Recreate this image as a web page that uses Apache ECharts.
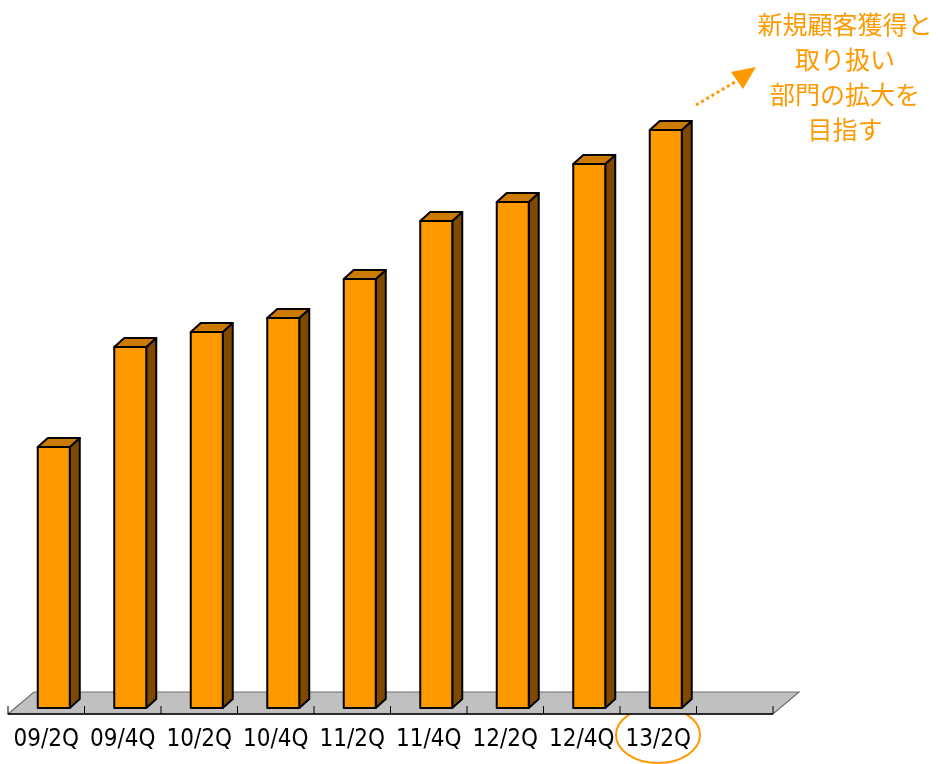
<!DOCTYPE html>
<html>
<head>
<meta charset="utf-8">
<script src="https://cdn.jsdelivr.net/npm/echarts@6/dist/echarts.min.js"></script>
<style>
  html, body { margin: 0; padding: 0; background: #fff; }
  #chart { width: 938px; height: 764px; }
</style>
</head>
<body>
<div id="chart"></div>
<script>
// Quarter labels (the trailing empty slot leaves room on the floor)
const categories = ['09/2Q', '09/4Q', '10/2Q', '10/4Q', '11/2Q', '11/4Q', '12/2Q', '12/4Q', '13/2Q', ''];
// Bar heights per quarter (relative units)
const values = [26.1, 36.1, 37.6, 39.0, 42.9, 48.7, 50.6, 54.4, 57.8];
// Callout text lines
const noteLines = ['新規顧客獲得と', '取り扱い', '部門の拡大を', '目指す'];

const ORANGE = '#FF9900';
const TOP = '#CC7A00';
const SIDE = '#7F4A00';

const chart = echarts.init(document.getElementById('chart'));

// depth of the floor and of each bar, in pixels
const FLOOR_DX = 26, FLOOR_DY = 22;
const BAR_DX = 10, BAR_DY = 9;
const BAR_W = 32;
const SHIFT_X = 7.5, SHIFT_Y = 6;
const TICK_LEN = 8;

// grey floor slab plus the category boundary ticks standing on its front edge
function renderFloor(params, api) {
  const cs = params.coordSys;
  const x0 = cs.x, x1 = cs.x + cs.width, y = cs.y + cs.height;
  const band = api.size([1, 0])[0];
  const children = [{
    type: 'polygon',
    shape: { points: [[x0, y], [x1, y], [x1 + FLOOR_DX, y - FLOOR_DY], [x0 + FLOOR_DX, y - FLOOR_DY]] },
    style: { fill: '#C0C0C0', stroke: '#6e6e6e', lineWidth: 1.2 }
  }];
  for (let i = 0; i < categories.length; i++) {
    const c = api.coord([i, 0])[0];
    children.push({
      type: 'line',
      shape: { x1: c - band / 2, y1: y, x2: c - band / 2, y2: y - TICK_LEN },
      style: { stroke: '#000', lineWidth: 1 }
    });
  }
  children.push({
    type: 'line',
    shape: { x1: x1, y1: y, x2: x1, y2: y - TICK_LEN },
    style: { stroke: '#000', lineWidth: 1 }
  });
  children.push({
    type: 'line',
    shape: { x1: x0, y1: y, x2: x1, y2: y },
    style: { stroke: '#000', lineWidth: 1.4 }
  });
  return { type: 'group', children: children };
}

function renderBar(params, api) {
  const idx = api.value(0);
  const v = api.value(1);
  const base = api.coord([idx, 0]);
  const top = api.coord([idx, v]);
  const x0 = base[0] + SHIFT_X - BAR_W / 2;
  const x1 = x0 + BAR_W;
  const yb = base[1] - SHIFT_Y;
  const yt = top[1] - SHIFT_Y;
  const line = { stroke: '#000', lineWidth: 2, lineJoin: 'round' };
  return {
    type: 'group',
    children: [
      { type: 'polygon', shape: { points: [[x1, yt], [x1 + BAR_DX, yt - BAR_DY], [x1 + BAR_DX, yb - BAR_DY], [x1, yb]] },
        style: Object.assign({ fill: SIDE }, line) },
      { type: 'polygon', shape: { points: [[x0, yt], [x1, yt], [x1 + BAR_DX, yt - BAR_DY], [x0 + BAR_DX, yt - BAR_DY]] },
        style: Object.assign({ fill: TOP }, line) },
      { type: 'rect', shape: { x: x0, y: yt, width: BAR_W, height: yb - yt },
        style: Object.assign({ fill: ORANGE }, line) }
    ]
  };
}

const noteGraphics = noteLines.map((t, i) => ({
  type: 'text',
  z: 10,
  style: {
    x: 845, y: 24 + i * 35,
    text: t,
    align: 'center',
    verticalAlign: 'middle',
    fill: ORANGE,
    font: '25px "Noto Sans CJK JP", sans-serif'
  }
}));

const option = {
  animation: false,
  grid: { left: 8, right: 165, top: 114, bottom: 50 },
  xAxis: {
    type: 'category',
    data: categories,
    boundaryGap: true,
    axisLine: { show: false },
    axisTick: { show: false },
    axisLabel: {
      interval: 0,
      color: '#000',
      fontSize: 24,
      fontFamily: '"DejaVu Sans Condensed", "Liberation Sans Narrow", "DejaVu Sans", sans-serif',
      margin: 14
    }
  },
  yAxis: { type: 'value', min: 0, max: 60, show: false },
  series: [
    {
      type: 'custom',
      renderItem: renderFloor,
      data: [[0, 0]],
      z: 0,
      silent: true
    },
    {
      type: 'custom',
      renderItem: renderBar,
      data: values.map((v, i) => [i, v]),
      encode: { x: 0, y: 1 },
      z: 3
    }
  ],
  graphic: noteGraphics.concat([
    {
      type: 'line',
      shape: { x1: 696, y1: 105, x2: 735, y2: 82 },
      style: { stroke: ORANGE, lineWidth: 3, lineDash: [3, 3] }
    },
    {
      type: 'polygon',
      shape: { points: [[731, 72], [756, 67], [743, 89]] },
      style: { fill: ORANGE }
    },
    {
      type: 'ellipse',
      shape: { cx: 658, cy: 735, rx: 42, ry: 28 },
      style: { fill: 'none', stroke: ORANGE, lineWidth: 2 }
    }
  ])
};

chart.setOption(option);
</script>
</body>
</html>
